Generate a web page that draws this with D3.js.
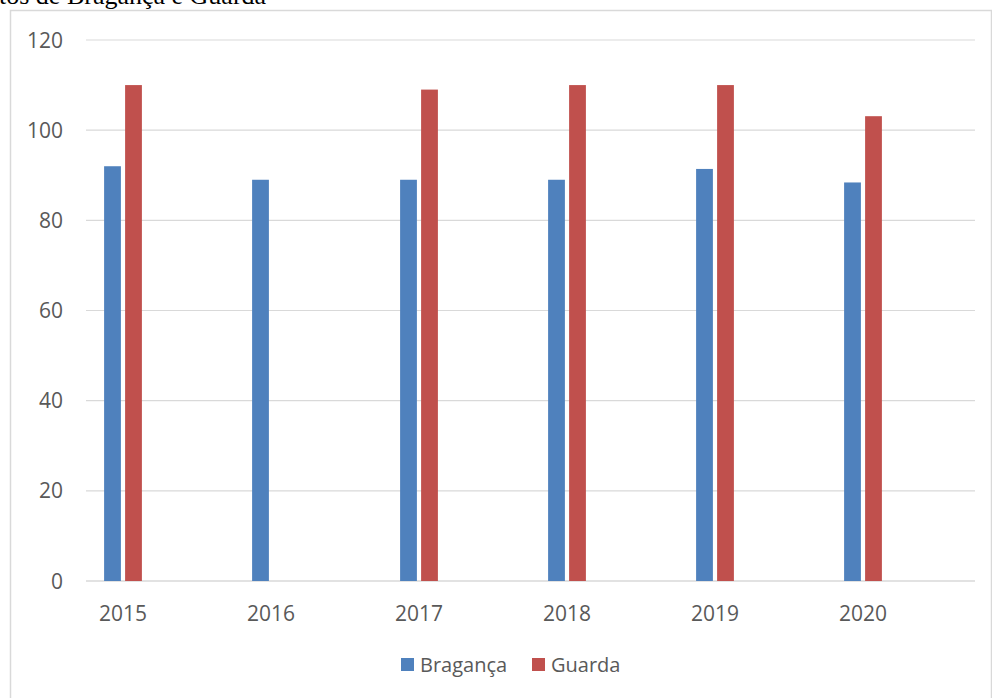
<!DOCTYPE html>
<html><head><meta charset="utf-8">
<script src="https://cdn.jsdelivr.net/npm/d3@7"></script>
<style>body{margin:0;background:#fff;overflow:hidden}</style>
</head><body>
<svg id="c" width="992" height="698"></svg>
<script>
const categories = ["2015","2016","2017","2018","2019","2020"];
const braganca = [92, 89, 89, 89, 91.4, 88.4];
const guarda = [110, null, 109, 110, 110, 103.1];
const yTicks = [0, 20, 40, 60, 80, 100, 120];
const seriesNames = ["Bragança", "Guarda"];
const colors = ["#4f81bd", "#c0504d"];

const svg = d3.select("#c");
const font = "'Open Sans', 'Noto Sans', sans-serif";

// title fragment (cropped by the page top in the original)
svg.append("text").attr("x", -1).attr("y", 4)
  .attr("font-family", "'Liberation Serif', serif").attr("font-size", 26)
  .attr("fill", "#000").text("tos de Bragança e Guarda");

// frame
svg.append("path").attr("d", "M10.5,700 V10.5 H991.5 V700")
  .attr("fill", "none").attr("stroke", "#d9d9d9").attr("stroke-width", 1.5);

const gridL = 86, gridR = 975;
const y = d3.scaleLinear().domain([0, 120]).range([581, 40]);
const x = d3.scaleBand().domain(categories).range([49, 937]).paddingInner(0).paddingOuter(0);

svg.append("g").selectAll("line").data(yTicks).join("line")
  .attr("x1", gridL).attr("x2", gridR)
  .attr("y1", d => y(d)).attr("y2", d => y(d))
  .attr("stroke", "#d9d9d9").attr("stroke-width", d => d === 0 ? 1.5 : 1.2);

svg.append("g").selectAll("text").data(yTicks).join("text")
  .attr("x", 63).attr("y", d => y(d)).attr("dy", "0.36em")
  .attr("text-anchor", "end").attr("font-family", font).attr("font-size", 21)
  .attr("fill", "#595959").text(d => d);

svg.append("g").selectAll("text").data(categories).join("text")
  .attr("x", d => x(d) + x.bandwidth() / 2).attr("y", 621)
  .attr("text-anchor", "middle").attr("font-family", font).attr("font-size", 21)
  .attr("fill", "#595959").text(d => d);

const barW = 16.8, gap = 4.2;
const series = [braganca, guarda];
series.forEach((vals, si) => {
  svg.append("g").selectAll("rect").data(categories.map((c, i) => ({c, v: vals[i]})).filter(d => d.v != null))
    .join("rect")
    .attr("x", d => x(d.c) + x.bandwidth() / 2 + (si === 0 ? -(barW + gap / 2) : gap / 2))
    .attr("y", d => y(d.v))
    .attr("width", barW)
    .attr("height", d => y(0) - y(d.v))
    .attr("fill", colors[si]);
});

// legend
const leg = [{x: 401, tx: 420}, {x: 532, tx: 551}];
seriesNames.forEach((n, i) => {
  svg.append("rect").attr("x", leg[i].x).attr("y", 658).attr("width", 13).attr("height", 13).attr("fill", colors[i]);
  svg.append("text").attr("x", leg[i].tx).attr("y", 665).attr("dy", "0.36em")
    .attr("font-family", font).attr("font-size", 20).attr("fill", "#595959").text(n);
});
</script>
</body></html>
